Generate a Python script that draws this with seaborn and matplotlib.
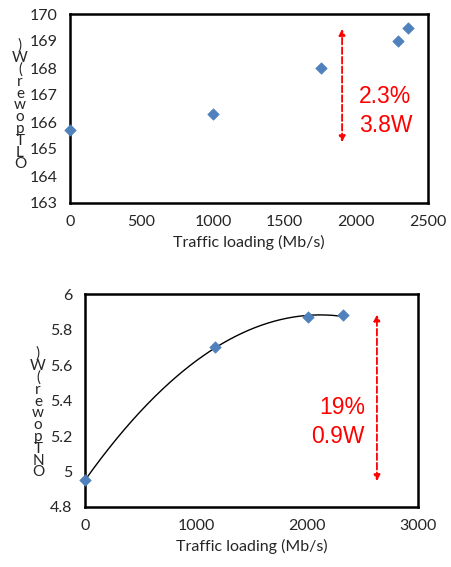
import numpy as np
import seaborn as sns
import matplotlib.pyplot as plt

# top panel: OLT power
olt_load = [0, 1000, 1750, 2290, 2360]
olt_power = [165.7, 166.3, 168.0, 169.0, 169.5]
olt_arrow = (1900, 165.15, 169.55)
olt_note = ["2.3%", "3.8W"]

# bottom panel: ONT power
ont_load = [0, 1170, 2010, 2320]
ont_power = [4.95, 5.70, 5.87, 5.88]
ont_arrow = (2630, 4.93, 5.90)
ont_note = ["19%", "0.9W"]

sns.set_style("white")
plt.rcParams['font.family'] = ['Lato', 'DejaVu Sans']

fig = plt.figure(figsize=(4.51, 5.67), dpi=100)
W, H = 451, 567
ax1 = fig.add_axes([70 / W, 1 - 203 / H, 358 / W, 189 / H])
ax2 = fig.add_axes([85 / W, 1 - 507 / H, 333 / W, 213 / H])

blue = "#4F81BD"
red = "#FF0000"


def style(ax):
    for s in ax.spines.values():
        s.set_linewidth(1.8)
        s.set_color("black")
    ax.tick_params(direction="in", length=5, width=1.2, labelsize=11.5, pad=9)
    ax.set_xlabel("Traffic loading (Mb/s)", fontsize=11.5)


def points(ax, x, y):
    sns.scatterplot(x=x, y=y, ax=ax, marker="D", color=blue, s=34,
                    edgecolor=blue, zorder=3, clip_on=False)


points(ax1, olt_load, olt_power)
ax1.set_xlim(0, 2500)
ax1.set_ylim(163, 170)
ax1.set_xticks(range(0, 2501, 500))
ax1.set_yticks(range(163, 171))
style(ax1)
ax1.annotate("", xy=(olt_arrow[0], olt_arrow[2]), xytext=(olt_arrow[0], olt_arrow[1]),
             arrowprops=dict(arrowstyle="<|-|>", color=red, ls="--", lw=1.3,
                             mutation_scale=9))
ax1.text(2020, 166.4, "\n".join(olt_note), color=red, fontsize=16.5,
         family="Liberation Sans", ha="left", va="center", linespacing=1.35)

coef = np.polyfit(ont_load, ont_power, 2)
xs = np.linspace(0, max(ont_load), 200)
sns.lineplot(x=xs, y=np.polyval(coef, xs), ax=ax2, color="black", lw=1)
points(ax2, ont_load, ont_power)
ax2.set_xlim(0, 3000)
ax2.set_ylim(4.8, 6.0)
ax2.set_xticks(range(0, 3001, 1000))
ax2.set_yticks([4.8, 5.0, 5.2, 5.4, 5.6, 5.8, 6.0])
ax2.set_yticklabels(["4.8", "5", "5.2", "5.4", "5.6", "5.8", "6"])
style(ax2)
ax2.annotate("", xy=(ont_arrow[0], ont_arrow[2]), xytext=(ont_arrow[0], ont_arrow[1]),
             arrowprops=dict(arrowstyle="<|-|>", color=red, ls="--", lw=1.3,
                             mutation_scale=9))
ax2.text(2522, 5.28, "\n".join(ont_note), color=red, fontsize=16.5,
         family="Liberation Sans", ha="right", va="center", linespacing=1.35)

# stacked y labels, read bottom to top
fig.text(20 / W, 1 - 105 / H, "\n".join(reversed("OLTpower(W)")), fontsize=11,
         ha="center", va="center", linespacing=0.8)
fig.text(38 / W, 1 - 413 / H, "\n".join(reversed("ONTpower(W)")), fontsize=11,
         ha="center", va="center", linespacing=0.8)

fig.savefig("out.png", dpi=100)
